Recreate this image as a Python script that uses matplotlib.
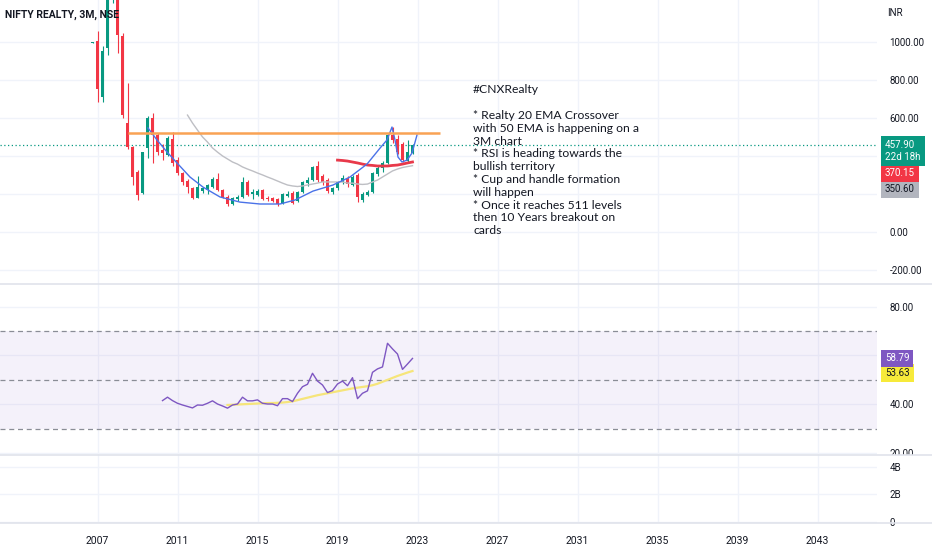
import matplotlib
matplotlib.use("Agg")
import matplotlib.pyplot as plt
import numpy as np
from matplotlib.lines import Line2D
from matplotlib.patches import Rectangle
from matplotlib.transforms import blended_transform_factory

plt.rcParams["font.family"] = ["Roboto", "DejaVu Sans"]

# ===== data (quarterly bars, first bar = Q4 2006) =====
OPEN = [998, 1007, 712, 970, 1300, 1650, 1033, 575, 448, 316,
        207, 443, 601, 512, 433, 407, 491, 380, 312, 269,
        233, 181, 217, 222, 238, 280, 222, 186, 148, 175,
        186, 265, 203, 196, 222, 180, 180, 175, 154, 191,
        207, 164, 212, 259, 275, 349, 296, 275, 212, 233,
        265, 286, 249, 301, 170, 196, 212, 307, 338, 365,
        512, 491, 464, 375, 417]
HIGH = [1004, 1059, 980, 1350, 1800, 1700, 1050, 785, 455, 330,
        425, 610, 627, 525, 465, 505, 527, 395, 320, 280,
        240, 295, 240, 255, 290, 312, 230, 195, 185, 195,
        291, 275, 228, 230, 230, 190, 186, 180, 205, 215,
        215, 215, 270, 290, 350, 375, 305, 285, 240, 270,
        300, 295, 300, 310, 210, 222, 318, 354, 375, 520,
        554, 512, 475, 486, 465]
LOW = [996, 686, 686, 933, 1207, 943, 601, 438, 248, 170,
       200, 391, 365, 405, 380, 400, 350, 300, 249, 206,
       175, 178, 205, 201, 232, 215, 178, 140, 145, 165,
       180, 190, 175, 190, 170, 165, 158, 140, 150, 185,
       148, 160, 205, 245, 270, 265, 250, 205, 201, 225,
       255, 240, 245, 159, 160, 190, 205, 295, 320, 360,
       470, 412, 370, 370, 412]
CLOSE = [1002, 754, 954, 1300, 1650, 1038, 617, 448, 290, 195,
         422, 601, 512, 422, 417, 496, 365, 312, 264, 238,
         181, 238, 233, 249, 280, 222, 186, 148, 180, 186,
         265, 196, 210, 217, 175, 175, 164, 148, 201, 201,
         154, 212, 265, 275, 344, 275, 265, 217, 233, 265,
         286, 254, 291, 186, 202, 212, 312, 338, 365, 512,
         486, 422, 380, 422, 457.9]

# gray EMA (starts at bar 19) and red EMA (starts at bar 49)
EMA_GRAY_START = 19
EMA_GRAY = [617, 575, 538, 502, 475, 444, 422, 402, 386, 370,
            359, 344, 333, 323, 312, 302, 291, 281, 270, 259,
            249, 244, 241, 244, 249, 254, 259, 265, 265, 265,
            265, 265, 259, 259, 254, 252, 254, 265, 275, 291,
            307, 323, 333, 341, 346, 350.6]
EMA_RED_START = 49
EMA_RED = [380, 378, 375, 370, 365, 359, 354, 352, 349, 349,
           349, 352, 354, 359, 365, 370.15]

# hand-drawn cup & handle curve (bar position, price)
CUP_X = [11.1, 12.9, 14.9, 16.9, 19.5, 22.1, 25.5, 29.5, 33.5, 37.5,
         40.5, 44.1, 48.1, 51.5, 54.9, 57.5, 58.9, 59.9, 60.5, 61.1,
         61.9, 62.9, 63.9, 64.9]
CUP_Y = [549, 486, 423, 365, 291, 238, 186, 159, 149, 149,
         170, 217, 249, 291, 359, 443, 486, 554, 486, 396,
         370, 380, 417, 512]

# resistance line
RES_LEVEL = 525
RES_FROM, RES_TO = 7.1, 69.5
LAST_PRICE = 457.90

# RSI (starts at bar 14) and its moving average (starts at bar 27)
RSI_START = 14
RSI = [41.5, 42.9, 41.5, 40.4, 39.7, 39.1, 38.5, 39.7, 39.6, 40.4,
       41.4, 40.1, 39.3, 38.4, 39.7, 40.1, 42.9, 41.4, 41.4, 41.8,
       40.4, 40.1, 40.1, 39.4, 42.3, 42.3, 41.1, 44.5, 47.2, 48.2,
       52.7, 49.5, 47.9, 44.8, 45.6, 48.3, 49.5, 47.6, 50.9, 42.3,
       44.5, 45.5, 53.1, 54.5, 55.3, 65.0, 62.7, 60.6, 54.3, 56.5,
       58.79]
RSI_MA_START = 27
RSI_MA = [39.7, 39.8, 39.9, 40.0, 40.1, 40.2, 40.3, 40.4, 40.5, 40.5,
          40.6, 40.7, 40.9, 41.2, 41.7, 42.2, 42.7, 43.2, 43.7, 44.1,
          44.5, 44.9, 45.3, 45.7, 46.1, 46.5, 46.8, 47.1, 47.4, 47.8,
          48.4, 49.2, 50.0, 50.8, 51.6, 52.3, 53.0, 53.63]

YEARS = [2007, 2011, 2015, 2019, 2023, 2027, 2031, 2035, 2039, 2043]
FIRST_BAR = 2006.75  # Q4 2006

PRICE_TICKS = [-200, 0, 200, 400, 600, 800, 1000]
PRICE_LABELS = ["-200.00", "0.00", "200.00", "", "600.00", "800.00", "1000.00"]
RSI_TICKS = [20, 40, 60, 80]
RSI_LABELS = ["20.00", "40.00", "", "80.00"]
VOL_TICKS = [0, 2, 4]
VOL_LABELS = ["0", "2B", "4B"]

NOTE = ("#CNXRealty\n\n"
        "* Realty 20 EMA Crossover\n"
        "with 50 EMA is happening on a\n"
        "3M chart\n"
        "* RSI is heading towards the\n"
        "bullish territory\n"
        "* Cup and handle formation\n"
        "will happen\n"
        "* Once it reaches 511 levels\n"
        "then 10 Years breakout on\n"
        "cards")

# ===== style =====
UP = "#089981"
DOWN = "#F23645"
GRID = "#F0F3FA"
SEP = "#E0E3EB"
TXT = "#131722"

W, H = 932, 550
PLOT_RIGHT = 877

fig = plt.figure(figsize=(W / 100, H / 100), dpi=100)


def px_axes(top, bottom):
    return fig.add_axes([0, 1 - bottom / H, PLOT_RIGHT / W, (bottom - top) / H])


ax_p = px_axes(0, 284)
ax_r = px_axes(284, 455)
ax_v = px_axes(455, 523)

xticks = [(y - FIRST_BAR) * 4 for y in YEARS]
for ax in (ax_p, ax_r, ax_v):
    ax.set_xlim(-18.5, 156.9)
    ax.set_xticks(xticks)
    ax.grid(True, color=GRID, lw=1)
    ax.set_axisbelow(True)
    for s in ax.spines.values():
        s.set_visible(False)
    ax.yaxis.tick_right()
    ax.tick_params(axis="y", length=0, pad=9, labelsize=7, labelcolor=TXT)
    ax.tick_params(axis="x", length=0, labelbottom=False)

# ---- price panel ----
ax_p.set_ylim(-272, 1222.6)
ax_p.set_yticks(PRICE_TICKS)
ax_p.set_yticklabels(PRICE_LABELS)

x = np.arange(len(OPEN))
o, h, l, c = map(np.array, (OPEN, HIGH, LOW, CLOSE))
cols = np.where(c >= o, UP, DOWN)
ax_p.vlines(x, l, h, colors=cols, lw=0.8, zorder=3)
ax_p.bar(x, np.abs(c - o), bottom=np.minimum(o, c), width=0.72,
         color=cols, zorder=4, linewidth=0)

ax_p.plot(np.arange(len(EMA_GRAY)) + EMA_GRAY_START, EMA_GRAY,
          color="#BEBFC4", lw=1, zorder=5)
ax_p.plot(np.arange(len(EMA_RED)) + EMA_RED_START, EMA_RED,
          color="#E8394A", lw=2, zorder=5)
ax_p.plot(CUP_X, CUP_Y, color="#4A72E8", lw=1, zorder=6)
ax_p.hlines(RES_LEVEL, RES_FROM, RES_TO, color="#F9A254", lw=1.8, zorder=6)
ax_p.axhline(LAST_PRICE, color=UP, lw=0.9, ls=(0, (1, 2)), zorder=2)

ax_p.text(76.1, 778, NOTE, family=["Lato", "DejaVu Sans"], fontsize=8.7,
          color=TXT, va="top", ha="left", linespacing=1.2, zorder=7)

bt = blended_transform_factory(ax_p.transAxes, ax_p.transData)
ax_p.annotate(f"{LAST_PRICE:.2f}\n22d 18h", xy=(1, LAST_PRICE), xycoords=bt,
              xytext=(8, 5), textcoords="offset pixels", va="top", ha="left",
              fontsize=7, color="white", linespacing=1.15, annotation_clip=False,
              bbox=dict(boxstyle="square,pad=0.45", fc=UP, ec="none"), zorder=10)
ax_p.annotate(f"{EMA_RED[-1]:.2f}", xy=(1, EMA_RED[-1]), xycoords=bt,
              xytext=(8, -11), textcoords="offset pixels", va="center", ha="left",
              fontsize=7, color="white", annotation_clip=False,
              bbox=dict(boxstyle="square,pad=0.4", fc=DOWN, ec="none"), zorder=9)
ax_p.annotate(f"{EMA_GRAY[-1]:.2f}", xy=(1, EMA_GRAY[-1]), xycoords=bt,
              xytext=(8, -23), textcoords="offset pixels", va="center", ha="left",
              fontsize=7, color=TXT, annotation_clip=False,
              bbox=dict(boxstyle="square,pad=0.4", fc="#B2B5BE", ec="none"), zorder=8)

# ---- RSI panel ----
ax_r.set_ylim(19.2, 89.3)
ax_r.set_yticks(RSI_TICKS)
ax_r.set_yticklabels(RSI_LABELS)
ax_r.axhspan(30, 70, color="#7E57C2", alpha=0.08, lw=0)
for lvl in (70, 50, 30):
    ax_r.axhline(lvl, color="#8A8D96", lw=0.9, ls=(0, (4, 3)))
ax_r.plot(np.arange(len(RSI)) + RSI_START, RSI, color="#7E57C2", lw=1, zorder=5)
ax_r.plot(np.arange(len(RSI_MA)) + RSI_MA_START, RSI_MA, color="#F6E57A",
          lw=1.6, zorder=4)
br = blended_transform_factory(ax_r.transAxes, ax_r.transData)
ax_r.annotate(f"{RSI[-1]:.2f}", xy=(1, RSI[-1]), xycoords=br,
              xytext=(8, 0), textcoords="offset pixels", va="center", ha="left",
              fontsize=7, color="white", annotation_clip=False,
              bbox=dict(boxstyle="square,pad=0.4", fc="#7E57C2", ec="none"), zorder=10)
ax_r.annotate(f"{RSI_MA[-1]:.2f}", xy=(1, RSI_MA[-1]), xycoords=br,
              xytext=(8, -2), textcoords="offset pixels", va="center", ha="left",
              fontsize=7, color=TXT, annotation_clip=False,
              bbox=dict(boxstyle="square,pad=0.4", fc="#F7EA3A", ec="none"), zorder=9)

# ---- volume panel (empty) ----
ax_v.set_ylim(-0.073, 4.87)
ax_v.set_yticks(VOL_TICKS)
ax_v.set_yticklabels(VOL_LABELS)
ax_v.tick_params(axis="x", labelbottom=True, labelsize=7.5, labelcolor=TXT, pad=9)
ax_v.set_xticklabels([str(y) for y in YEARS])

# panel separators and clipping of the 20.00 label
fig.add_artist(Rectangle((PLOT_RIGHT / W, 1 - 461 / H), 1 - PLOT_RIGHT / W, 6 / H,
                         transform=fig.transFigure, fc="white", ec="none", zorder=5))
for ypx in (284, 455, 523):
    fig.add_artist(Line2D([0, 1], [1 - ypx / H] * 2, transform=fig.transFigure,
                          color=SEP, lw=1.2, zorder=6))

fig.text(5 / W, 1 - 15 / H, "NIFTY REALTY, 3M, NSE", fontsize=7.5,
         fontweight="bold", color=TXT, va="center", ha="left")
fig.text(887 / W, 1 - 13 / H, "INR", fontsize=7, color=TXT, va="center", ha="left")

fig.savefig("out.png", dpi=100, facecolor="white")
